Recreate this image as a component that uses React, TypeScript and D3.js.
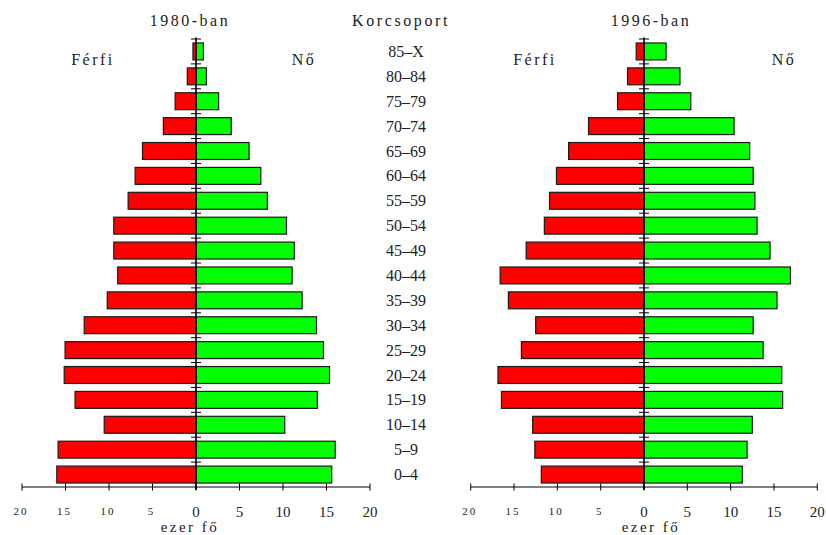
import * as d3 from "d3";

// Age groups, top to bottom
const ageGroups = [
  "85–X", "80–84", "75–79", "70–74", "65–69", "60–64", "55–59", "50–54", "45–49",
  "40–44", "35–39", "30–34", "25–29", "20–24", "15–19", "10–14", "5–9", "0–4",
];

// thousand persons
const male1980 = [0.35, 1.0, 2.4, 3.75, 6.15, 7.0, 7.8, 9.45, 9.45, 9.0, 10.2, 12.85, 15.05, 15.15, 13.9, 10.55, 15.85, 16.0];
const female1980 = [0.85, 1.2, 2.6, 4.05, 6.1, 7.45, 8.2, 10.4, 11.3, 11.05, 12.2, 13.85, 14.65, 15.35, 13.95, 10.2, 16.0, 15.6];
const male1996 = [0.9, 1.9, 3.05, 6.4, 8.7, 10.1, 10.9, 11.5, 13.6, 16.6, 15.65, 12.5, 14.15, 16.85, 16.45, 12.85, 12.6, 11.85];
const female1996 = [2.55, 4.15, 5.4, 10.4, 12.2, 12.6, 12.8, 13.05, 14.55, 16.9, 15.35, 12.6, 13.75, 15.9, 16.0, 12.5, 11.9, 11.35];

const axisTicks = [-20, -15, -10, -5, 0, 5, 10, 15, 20];

const FONT = "'Liberation Serif', 'Times New Roman', serif";
const INK = "#222";
const TOP = 39;
const BOTTOM = 487;

const y = d3.scaleBand<string>()
  .domain(ageGroups)
  .range([TOP, BOTTOM])
  .paddingInner(0.32)
  .paddingOuter(0.16);

const panels = [
  { title: "1980-ban", male: male1980, female: female1980, range: [22, 370], titleDx: -6, ferfiX: 93, noX: 304 },
  { title: "1996-ban", male: male1996, female: female1996, range: [470.7, 817.3], titleDx: 7, ferfiX: 535, noX: 784 },
];

function Pyramid({ p }: { p: typeof panels[number] }) {
  const x = d3.scaleLinear().domain([-20, 20]).range(p.range);
  const x0 = x(0);
  const step = y.step();
  const boundaries = ageGroups.map((g) => (y(g) as number) - (step - y.bandwidth()) / 2);
  return (
    <g>
      <text x={x0 + p.titleDx} y={26} textAnchor="middle" fontSize={16} letterSpacing={2.5} fill={INK}>{p.title}</text>
      <text x={p.ferfiX} y={65} textAnchor="middle" fontSize={16} letterSpacing={2.5} fill={INK}>Férfi</text>
      <text x={p.noX} y={65} textAnchor="middle" fontSize={16} letterSpacing={2.5} fill={INK}>Nő</text>

      {ageGroups.map((g, i) => (
        <g key={g}>
          <rect x={x(-p.male[i])} y={y(g)} width={x0 - x(-p.male[i])} height={y.bandwidth()}
            fill="#ff0000" stroke="#1a1a1a" strokeWidth={1.2} />
          <rect x={x0} y={y(g)} width={x(p.female[i]) - x0} height={y.bandwidth()}
            fill="#00ff00" stroke="#1a1a1a" strokeWidth={1.2} />
        </g>
      ))}

      {/* central axis with class boundaries */}
      <line x1={x0} x2={x0} y1={TOP - 1.5} y2={BOTTOM + 3} stroke="#000" strokeWidth={1.6} />
      {boundaries.map((b, i) => (
        <line key={i} x1={x0 - 5} x2={x0 + 5} y1={b} y2={b} stroke="#000" strokeWidth={1} />
      ))}

      {/* bottom axis */}
      <line x1={x(-20)} x2={x(20)} y1={BOTTOM} y2={BOTTOM} stroke="#000" strokeWidth={1} />
      {axisTicks.map((t) => (
        <line key={t} x1={x(t)} x2={x(t)} y1={BOTTOM - 3.5} y2={BOTTOM + 3.5} stroke="#000" strokeWidth={1} />
      ))}
      {axisTicks.map((t) =>
        t < 0 ? (
          <text key={t} x={x(t) - 1} y={515} textAnchor="middle" fontSize={11} letterSpacing={2} fill={INK}>{Math.abs(t)}</text>
        ) : (
          <text key={t} x={x(t)} y={517} textAnchor="middle" fontSize={15} fill={INK}>{t}</text>
        )
      )}
      <text x={x0 + p.titleDx} y={532} textAnchor="middle" fontSize={15} letterSpacing={2.5} fill={INK}>ezer fő</text>
    </g>
  );
}

export default function App() {
  return (
    <svg width={826} height={535} style={{ position: "absolute", left: 0, top: 0, background: "#fff" }}
      fontFamily={FONT}>
      <rect width={826} height={535} fill="#fff" />
      <text x={401} y={26} textAnchor="middle" fontSize={16} letterSpacing={2.6} fill={INK}>Korcsoport</text>
      {ageGroups.map((g) => (
        <text key={g} x={406} y={(y(g) as number) + y.bandwidth() / 2 + 5.5} textAnchor="middle" fontSize={16} fill={INK}>{g}</text>
      ))}
      {panels.map((p) => <Pyramid key={p.title} p={p} />)}
    </svg>
  );
}
